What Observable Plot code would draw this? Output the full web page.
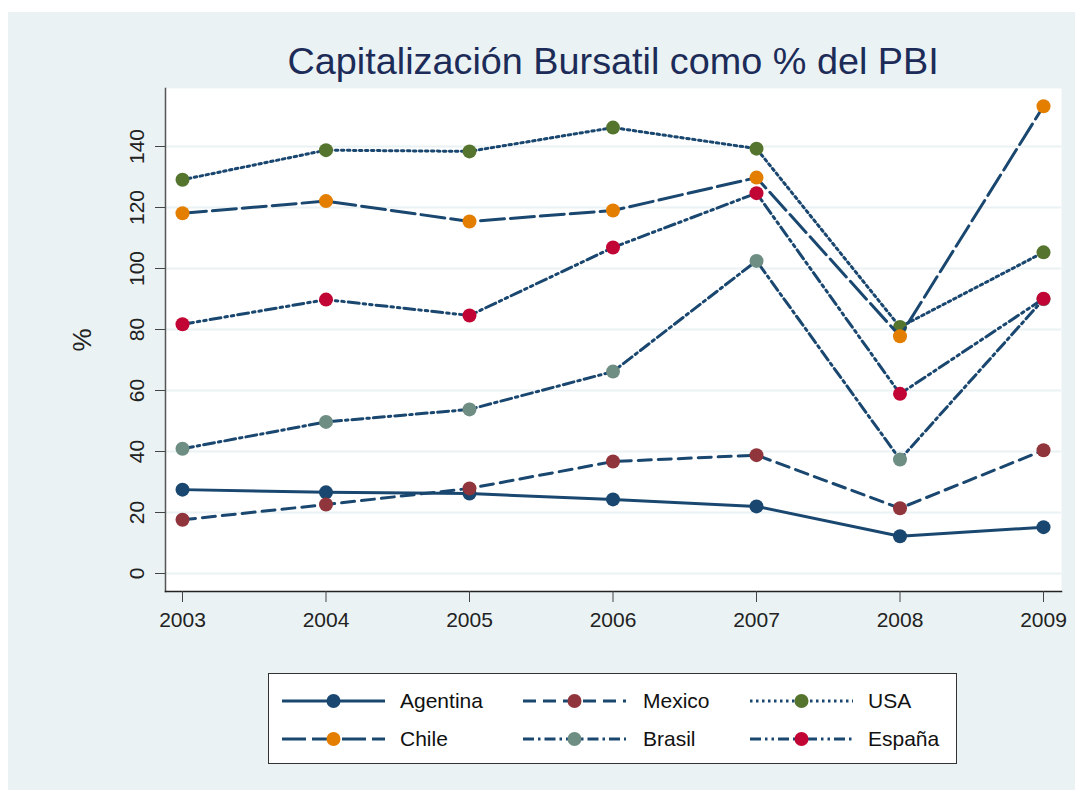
<!DOCTYPE html>
<html>
<head>
<meta charset="utf-8">
<script src="https://cdn.jsdelivr.net/npm/d3@7"></script>
<script src="https://cdn.jsdelivr.net/npm/@observablehq/plot@0.6"></script>
<style>
  body { margin: 0; background: #ffffff; font-family: "Liberation Sans", Arial, Helvetica, sans-serif; }
  #outer { position: absolute; left: 8px; top: 12px; width: 1067px; height: 778px; background: #EAF2F3; overflow: hidden; }
  #title { position: absolute; left: 157px; width: 896px; top: 32px; text-align: center; font-size: 36px; line-height: 36px; color: #1c2b57; white-space: nowrap; }
  #title span { display: inline-block; transform: scaleX(1.05); transform-origin: center; }
  #chart { position: absolute; left: 0; top: 66px; }
  #chart [aria-label="y-axis label"] text { font-size: 26px; }
  #legend { position: absolute; left: 260px; top: 661px; width: 689px; height: 91px; background: #ffffff; border: 1.5px solid #333; box-sizing: border-box; }
  .entry { position: absolute; height: 24px; }
  .entry svg { position: absolute; left: 0; top: 0; }
  .entry span { position: absolute; top: 0; font-size: 21px; line-height: 24px; color: #111; white-space: nowrap; }
</style>
</head>
<body>
<div id="outer">
  <div id="title"><span></span></div>
  <div id="chart"></div>
  <div id="legend"></div>
</div>
<script>
// ---- data ----
const titleText = "Capitalización Bursatil como % del PBI";
const yLabel = "%";
const years = [2003, 2004, 2005, 2006, 2007, 2008, 2009];
const yTicks = [0, 20, 40, 60, 80, 100, 120, 140];
const seriesNames = ["Agentina", "Mexico", "USA", "Chile", "Brasil", "España"];
const argentina = [27.5, 26.6, 26.2, 24.3, 22.0, 12.2, 15.2];
const mexico    = [17.6, 22.6, 27.9, 36.7, 38.8, 21.4, 40.4];
const usa       = [129.1, 138.8, 138.4, 146.2, 139.3, 80.8, 105.3];
const chile     = [118.1, 122.1, 115.4, 119.0, 129.8, 77.8, 153.2];
const brasil    = [40.9, 49.7, 53.8, 66.2, 102.5, 37.4, 89.9];
const espana    = [81.7, 89.8, 84.6, 106.9, 124.7, 58.9, 90.1];
const seriesValues = [argentina, mexico, usa, chile, brasil, espana];

// ---- styles ----
const lineColor = "#1a476f";
const markerColors = ["#1a476f", "#90353b", "#55752f", "#e37e00", "#6e8e84", "#c10534"];
const dashes = [null, "13,7", "2.5,3.5", "24,6", "11,4,2.5,4", "11,4,2.5,4,2.5,4"];

document.querySelector("#title span").textContent = titleText;

const rows = [];
seriesNames.forEach((name, i) => years.forEach((yr, j) => rows.push({ series: name, year: yr, value: seriesValues[i][j] })));

const marks = [
  Plot.frame({ fill: "white", stroke: null }),
  Plot.gridY(yTicks, { stroke: "#EAF2F3", strokeOpacity: 1, strokeWidth: 2 }),
  Plot.frame({ anchor: "left", stroke: "#555", strokeWidth: 1.5 }),
  Plot.frame({ anchor: "bottom", stroke: "#222", strokeWidth: 1.5 }),
  Plot.axisY(yTicks, { tickSize: 10, tickRotate: -90, tickPadding: 12, label: yLabel, labelAnchor: "center", labelArrow: "none", labelOffset: 93, color: "#222", stroke: "#444" }),
  Plot.axisX(years, { tickSize: 11, tickPadding: 10, tickFormat: d => String(d), label: null, color: "#222", stroke: "#444" })
];
seriesNames.forEach((name, i) => {
  const data = rows.filter(r => r.series === name);
  marks.push(Plot.line(data, { x: "year", y: "value", stroke: lineColor, strokeWidth: 3, strokeDasharray: dashes[i] || undefined, strokeLinejoin: "round" }));
  marks.push(Plot.dot(data, { x: "year", y: "value", r: 7, fill: markerColors[i] }));
});

const chart = Plot.plot({
  width: 1067,
  height: 563,
  marginLeft: 157,
  marginRight: 14,
  marginTop: 10,
  marginBottom: 50,
  style: { fontFamily: "'Liberation Sans', Arial, Helvetica, sans-serif", fontSize: "21px", background: "transparent", color: "#222", overflow: "visible" },
  x: { type: "linear", domain: [2003, 2009], insetLeft: 17, insetRight: 18 },
  y: { domain: [0, 140], insetTop: 58, insetBottom: 18 },
  marks
});
document.getElementById("chart").appendChild(chart);

// ---- legend ----
const legend = document.getElementById("legend");
const colLine = [13, 254, 481];
const colText = [131, 374, 599];
const rowY = [15, 53];
const ns = "http://www.w3.org/2000/svg";
seriesNames.forEach((name, i) => {
  const col = i % 3, row = Math.floor(i / 3);
  const entry = document.createElement("div");
  entry.className = "entry";
  entry.style.left = colLine[col] + "px";
  entry.style.top = rowY[row] + "px";
  entry.style.width = (colText[col] - colLine[col] + 120) + "px";
  const svg = document.createElementNS(ns, "svg");
  svg.setAttribute("width", 104); svg.setAttribute("height", 24);
  const ln = document.createElementNS(ns, "line");
  ln.setAttribute("x1", 0); ln.setAttribute("x2", 103); ln.setAttribute("y1", 12); ln.setAttribute("y2", 12);
  ln.setAttribute("stroke", lineColor); ln.setAttribute("stroke-width", 3);
  if (dashes[i]) ln.setAttribute("stroke-dasharray", dashes[i]);
  svg.appendChild(ln);
  const c = document.createElementNS(ns, "circle");
  c.setAttribute("cx", 51.5); c.setAttribute("cy", 12); c.setAttribute("r", 7);
  c.setAttribute("fill", markerColors[i]);
  svg.appendChild(c);
  entry.appendChild(svg);
  const sp = document.createElement("span");
  sp.style.left = (colText[col] - colLine[col]) + "px";
  sp.textContent = name;
  entry.appendChild(sp);
  legend.appendChild(entry);
});
</script>
</body>
</html>
